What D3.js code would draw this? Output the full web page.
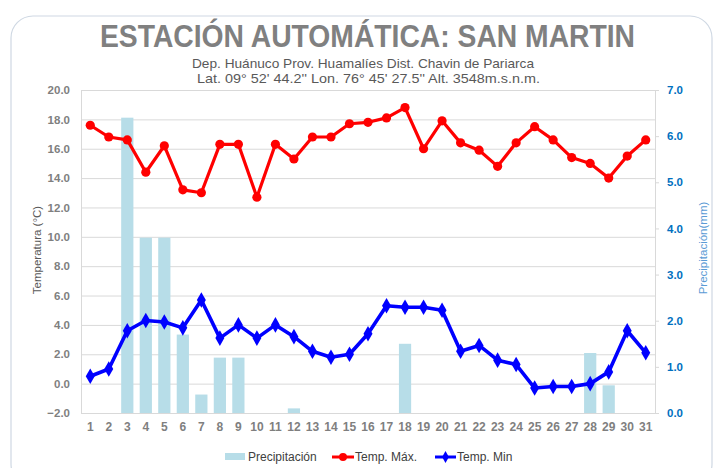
<!DOCTYPE html>
<html><head><meta charset="utf-8">
<script src="https://cdn.jsdelivr.net/npm/d3@7"></script>
<style>
html,body{margin:0;padding:0;background:#fff;}
svg{display:block;font-family:"Liberation Sans",Arial,sans-serif;}
</style></head>
<body>
<svg id="chart" width="718" height="468"></svg>
<script>
// ---- data ----
const days = ["1","2","3","4","5","6","7","8","9","10","11","12","13","14","15","16","17","18","19","20","21","22","23","24","25","26","27","28","29","30","31"];
const tempMax = [17.6,16.8,16.6,14.4,16.2,13.2,13.0,16.3,16.3,12.7,16.3,15.3,16.8,16.8,17.7,17.8,18.1,18.8,16.0,17.9,16.4,15.9,14.8,16.4,17.5,16.6,15.4,15.0,14.0,15.5,16.6];
const tempMin = [0.5,1.0,3.6,4.3,4.2,3.8,5.7,3.1,4.0,3.1,4.0,3.2,2.2,1.8,2.0,3.4,5.3,5.2,5.2,5.0,2.2,2.6,1.6,1.3,-0.3,-0.2,-0.2,0.0,0.8,3.6,2.1];
const precip = [0,0,6.4,3.8,3.8,1.7,0.4,1.2,1.2,0,0,0.1,0,0,0,0,0,1.5,0,0,0,0,0,0,0,0,0,1.3,0.6,0,0];
const tempTicks = [-2,0,2,4,6,8,10,12,14,16,18,20];
const precipTicks = [0,1,2,3,4,5,6,7];
const title = "ESTACIÓN AUTOMÁTICA: SAN MARTIN";
const subtitle1 = "Dep. Huánuco Prov. Huamalíes Dist. Chavin de Pariarca";
const subtitle2 = "Lat. 09° 52' 44.2'' Lon. 76° 45' 27.5'' Alt. 3548m.s.n.m.";
const legendLabels = ["Precipitación","Temp. Máx.","Temp. Min"];

// ---- layout ----
const svg = d3.select("#chart");
const L = 81, R = 655, T = 90, B = 413;

svg.append("rect").attr("x",11).attr("y",16).attr("width",701).attr("height",470)
  .attr("rx",22).attr("fill","#fff").attr("stroke","#cfd8e3").attr("stroke-width",1.2);

svg.append("text").attr("x",100).attr("y",47)
  .attr("font-size",31).attr("font-weight","bold").attr("fill","#808080")
  .attr("textLength",535).attr("lengthAdjust","spacingAndGlyphs").text(title);
svg.append("text").attr("x",192).attr("y",68)
  .attr("font-size",13.5).attr("fill","#595959")
  .attr("textLength",342).attr("lengthAdjust","spacingAndGlyphs").text(subtitle1);
svg.append("text").attr("x",197).attr("y",83)
  .attr("font-size",13.5).attr("fill","#595959")
  .attr("textLength",343).attr("lengthAdjust","spacingAndGlyphs").text(subtitle2);

const x = d3.scaleBand().domain(days).range([L,R]).paddingInner(0.34).paddingOuter(0.17);
const yT = d3.scaleLinear().domain([-2,20]).range([B,T]);
const yP = d3.scaleLinear().domain([0,7]).range([B,T]);
const cx = d => x(d) + x.bandwidth()/2;

// gridlines
svg.append("g").attr("transform",`translate(${L},0)`)
  .call(d3.axisLeft(yT).tickValues(tempTicks).tickSize(-(R-L)).tickFormat(""))
  .call(g=>g.select(".domain").remove())
  .call(g=>g.selectAll("line").attr("stroke","#d9d9d9"));

// left axis
svg.append("g").attr("transform",`translate(${L},0)`)
  .call(d3.axisLeft(yT).tickValues(tempTicks).tickSize(0).tickPadding(11).tickFormat(d3.format(".1f")))
  .call(g=>g.select(".domain").attr("stroke","#d9d9d9"))
  .call(g=>g.selectAll("text").attr("fill","#7f7f7f").attr("font-size",11.5).attr("font-weight","bold").attr("font-family","Liberation Sans, Arial, sans-serif"));

// right axis
svg.append("g").attr("transform",`translate(${R},0)`)
  .call(d3.axisRight(yP).tickValues(precipTicks).tickSize(4).tickPadding(8).tickFormat(d3.format(".1f")))
  .call(g=>g.select(".domain").attr("stroke","#d9d9d9"))
  .call(g=>g.selectAll("line").attr("stroke","#d9d9d9"))
  .call(g=>g.selectAll("text").attr("fill","#0070c0").attr("font-size",11.5).attr("font-weight","bold").attr("font-family","Liberation Sans, Arial, sans-serif"));

// bottom axis
svg.append("g").attr("transform",`translate(0,${B})`)
  .call(d3.axisBottom(x).tickSize(0).tickPadding(9))
  .call(g=>g.select(".domain").attr("stroke","#d9d9d9"))
  .call(g=>g.selectAll("text").attr("fill","#7f7f7f").attr("font-size",12).attr("font-weight","bold").attr("font-family","Liberation Sans, Arial, sans-serif"));

// axis titles
svg.append("text").attr("transform","translate(41,250) rotate(-90)").attr("text-anchor","middle")
  .attr("font-size",11.5).attr("fill","#595959").text("Temperatura (°C)");
svg.append("text").attr("transform","translate(707,248) rotate(-90)").attr("text-anchor","middle")
  .attr("font-size",11.5).attr("fill","#5b9bd5").text("Precipitación(mm)");

// bars
svg.append("g").selectAll("rect").data(precip.map((v,i)=>({d:days[i],v}))).join("rect")
  .filter(o=>o.v>0)
  .attr("x",o=>x(o.d)).attr("width",x.bandwidth())
  .attr("y",o=>yP(o.v)).attr("height",o=>yP(0)-yP(o.v))
  .attr("fill","#b7dde8");

// lines
const lineT = d3.line().x((v,i)=>cx(days[i])).y(v=>yT(v));
svg.append("path").attr("d",lineT(tempMax)).attr("fill","none").attr("stroke","#ff0000").attr("stroke-width",3.2).attr("stroke-linejoin","round");
svg.append("g").selectAll("circle").data(tempMax).join("circle")
  .attr("cx",(v,i)=>cx(days[i])).attr("cy",v=>yT(v)).attr("r",4.6).attr("fill","#ff0000");

svg.append("path").attr("d",lineT(tempMin)).attr("fill","none").attr("stroke","#0000ff").attr("stroke-width",3.6).attr("stroke-linejoin","round");
const diamond = d3.symbol(d3.symbolDiamond,70);
svg.append("g").selectAll("path").data(tempMin).join("path")
  .attr("transform",(v,i)=>`translate(${cx(days[i])},${yT(v)})`).attr("d",diamond()).attr("fill","#0000ff");

// legend
const lg = svg.append("g").attr("font-size",12).attr("fill","#404040");
lg.append("rect").attr("x",225).attr("y",453).attr("width",20).attr("height",7).attr("fill","#b7dde8");
lg.append("text").attr("x",248).attr("y",461).attr("fill","#404040").text(legendLabels[0]);
lg.append("line").attr("x1",332).attr("x2",354).attr("y1",457).attr("y2",457).attr("stroke","#ff0000").attr("stroke-width",3);
lg.append("circle").attr("cx",343).attr("cy",457).attr("r",4).attr("fill","#ff0000");
lg.append("text").attr("x",355).attr("y",461).attr("fill","#404040").text(legendLabels[1]);
lg.append("line").attr("x1",435).attr("x2",456).attr("y1",457).attr("y2",457).attr("stroke","#0000ff").attr("stroke-width",3);
lg.append("path").attr("transform","translate(445.5,457)").attr("d",d3.symbol(d3.symbolDiamond,40)()).attr("fill","#0000ff");
lg.append("text").attr("x",457).attr("y",461).attr("fill","#404040").text(legendLabels[2]);
</script>
</body></html>
